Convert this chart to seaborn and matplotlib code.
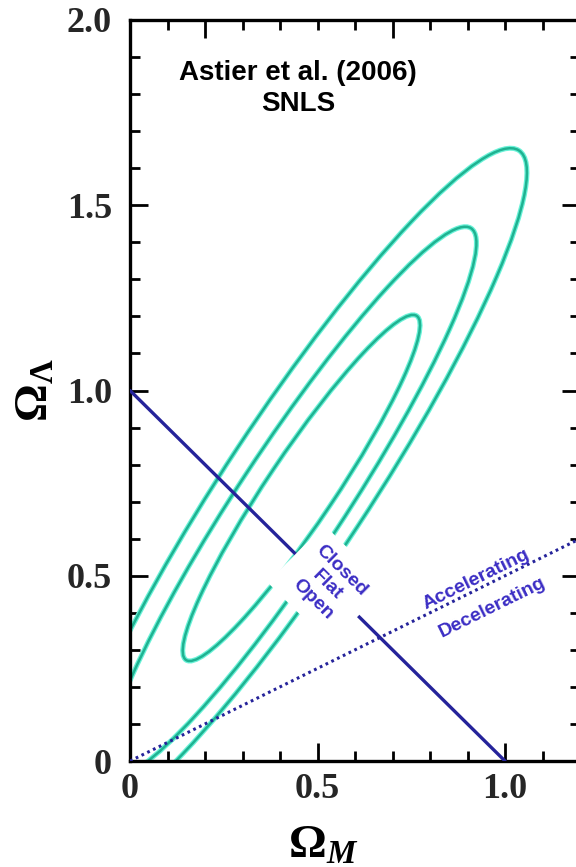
import matplotlib
matplotlib.use("Agg")
import matplotlib.pyplot as plt
from matplotlib.patches import Ellipse
from matplotlib.ticker import MultipleLocator, FixedLocator
import pandas as pd
import seaborn as sns

# ---------------- data ----------------
# confidence contours (1, 2, 3 sigma) approximated as ellipses
contour_names = ["1sigma", "2sigma", "3sigma"]
ellipse_cx = [0.457, 0.430, 0.446]
ellipse_cy = [0.737, 0.700, 0.738]
ellipse_semi_major = [0.557, 0.880, 1.085]
ellipse_semi_minor = [0.090, 0.142, 0.192]
ellipse_angle = [56.5, 57.0, 57.0]

# flat universe line  Omega_M + Omega_L = 1
flat_om = [0.0, 1.0]
flat_ol = [1.0, 0.0]
# accelerating / decelerating boundary  Omega_L = Omega_M / 2
acc_om = [0.0, 1.2]
acc_ol = [0.0, 0.6]

x_ticks = [0.0, 0.5, 1.0]
x_ticklabels = ["0", "0.5", "1.0"]
y_ticks = [0.0, 0.5, 1.0, 1.5, 2.0]
y_ticklabels = ["0", "0.5", "1.0", "1.5", "2.0"]
top_major_ticks = [0.2, 0.7, 1.2]

title_text = "Astier et al. (2006)\nSNLS"
geometry_text = "Closed\nFlat\nOpen"
acc_text = "Accelerating"
dec_text = "Decelerating"

# ---------------- style ----------------
sns.set_theme(style="ticks")
plt.rcParams["font.family"] = ["Liberation Sans", "DejaVu Sans"]
plt.rcParams["mathtext.fontset"] = "custom"
plt.rcParams["mathtext.rm"] = "Liberation Serif:bold"
plt.rcParams["mathtext.it"] = "Liberation Serif:italic:bold"
plt.rcParams["mathtext.bf"] = "Liberation Serif:bold"

teal_halo = "#6af2d8"
teal_core = "#1fb291"
navy = "#25239a"
text_blue = "#3b2dc4"

fig = plt.figure(figsize=(5.76, 8.67), dpi=100)
ax = fig.add_axes([130 / 576, 106 / 867, 450 / 576, 741 / 867])

# contours
for cx, cy, a, b, ang in zip(ellipse_cx, ellipse_cy, ellipse_semi_major,
                             ellipse_semi_minor, ellipse_angle):
    ax.add_patch(Ellipse((cx, cy), 2 * a, 2 * b, angle=ang, fill=False,
                         ec=teal_halo, lw=3.6, zorder=2))
    ax.add_patch(Ellipse((cx, cy), 2 * a, 2 * b, angle=ang, fill=False,
                         ec=teal_core, lw=1.8, zorder=2.1))

flat_df = pd.DataFrame({"om": flat_om, "ol": flat_ol})
acc_df = pd.DataFrame({"om": acc_om, "ol": acc_ol})
sns.lineplot(data=flat_df, x="om", y="ol", ax=ax, color=navy, lw=2.4,
             sort=False, zorder=3)
sns.lineplot(data=acc_df, x="om", y="ol", ax=ax, color=navy, lw=2.2,
             sort=False, zorder=3, dashes=False, linestyle=(0, (0.9, 1.2)))

ax.set_xlim(0, 1.2)
ax.set_ylim(0, 2.0)

# texts
ax.text(0.448, 1.816, title_text, ha="center", va="center", fontsize=20,
        fontweight="bold", color="black", linespacing=1.25, zorder=6)
ax.text(0.526, 0.476, geometry_text, ha="center", va="center",
        multialignment="center", rotation=-44.7, rotation_mode="anchor",
        fontsize=14, fontweight="bold", color=text_blue, linespacing=1.25,
        bbox=dict(boxstyle="square,pad=0.6", fc="white", ec="none"),
        zorder=6)
ax.text(0.922, 0.490, acc_text, ha="center", va="center", rotation=26.3,
        rotation_mode="anchor", fontsize=14, fontweight="bold",
        color=text_blue, zorder=6)
ax.text(0.966, 0.414, dec_text, ha="center", va="center", rotation=26.3,
        rotation_mode="anchor", fontsize=14, fontweight="bold",
        color=text_blue, zorder=6)

# axes / ticks
tick_font = dict(fontsize=26, fontfamily="Liberation Serif", fontweight="bold")
ax.set_xticks(x_ticks, x_ticklabels, **tick_font)
ax.set_yticks(y_ticks, y_ticklabels, **tick_font)
ax.xaxis.set_minor_locator(MultipleLocator(0.1))
ax.yaxis.set_minor_locator(MultipleLocator(0.1))
ax.tick_params(which="both", direction="in", color="black", width=2.0,
               right=True, top=False)
ax.tick_params(which="major", length=13)
ax.tick_params(which="minor", length=7)
ax.tick_params(axis="x", which="major", pad=9)
ax.tick_params(axis="y", which="major", pad=13)
for s in ax.spines.values():
    s.set_linewidth(2.4)
    s.set_color("black")
    s.set_visible(True)

ax2 = ax.twiny()
ax2.set_xlim(0, 1.2)
ax2.xaxis.set_major_locator(FixedLocator(top_major_ticks))
ax2.xaxis.set_minor_locator(MultipleLocator(0.1))
ax2.tick_params(which="both", direction="in", color="black", width=2.0,
                labeltop=False, top=True, bottom=False, labelbottom=False)
ax2.tick_params(which="major", length=13)
ax2.tick_params(which="minor", length=7)
for s in ax2.spines.values():
    s.set_visible(False)

ax.set_xlabel(r"$\Omega_{M}$", fontsize=34, color="black")
ax.set_ylabel(r"$\Omega_{\Lambda}$", fontsize=34, color="black")
ax.xaxis.set_label_coords(0.429, -0.085)
ax.yaxis.set_label_coords(-0.16, 0.5)

fig.savefig("out.png", dpi=100, facecolor="white")
